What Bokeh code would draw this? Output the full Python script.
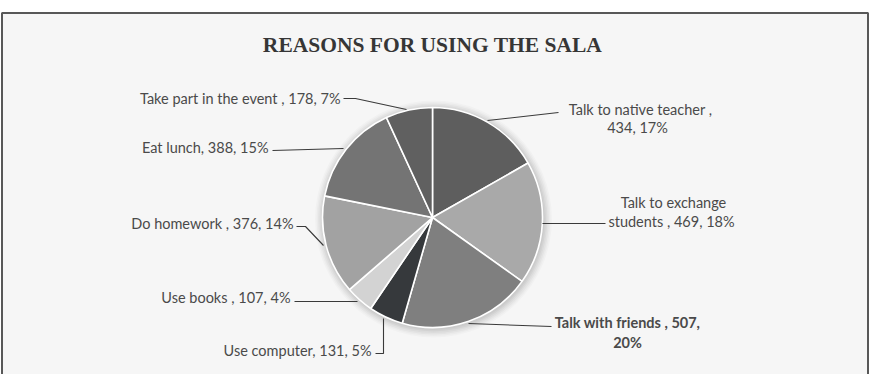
import numpy as np
from bokeh.plotting import figure
from bokeh.models import Range1d
from bokeh.core.properties import value
from bokeh.embed import file_html
from bokeh.resources import INLINE

# ---- data ----
categories = ["Talk to native teacher", "Talk to exchange students", "Talk with friends",
              "Use computer", "Use books", "Do homework", "Eat lunch", "Take part in the event"]
counts = [434, 469, 507, 131, 107, 376, 388, 178]
percents = [17, 18, 20, 5, 4, 14, 15, 7]
slice_colors = ["#5e5e5e", "#a9a9a9", "#7f7f7f", "#36393c", "#d3d3d3", "#a2a2a2", "#747474", "#606060"]
title = "REASONS FOR USING THE SALA"

W, H = 878, 374
def Y(py):
    return H - py

p = figure(width=W, height=H, x_range=Range1d(0, W), y_range=Range1d(0, H),
           output_backend="svg", toolbar_location=None, min_border=0)
p.axis.visible = False
p.grid.visible = False
p.outline_line_color = None
p.background_fill_color = "white"
p.border_fill_color = "white"

# frame
p.quad(left=1.5, right=867.5, bottom=-10, top=Y(12.5), fill_color="#f6f6f6",
       line_color="#585858", line_width=2)

# title
p.text(x=[432], y=[Y(44)], text=[title], text_font=value("Liberation Serif"),
       text_font_style="bold", text_font_size="21.5px", text_color="#363636",
       text_align="center", text_baseline="middle")

cx, cy, R = 432, Y(217), 110

# shadow halo
for i, a in enumerate([0.035, 0.035, 0.03, 0.03, 0.025, 0.02]):
    p.circle(x=[cx + 1], y=[cy - 1.5], radius=R + 1 + i * 1.5, radius_units="screen",
             fill_color="#000000", fill_alpha=a, line_color=None)

total = float(sum(counts))
fr = np.array(counts) / total
cum = np.concatenate([[0], np.cumsum(fr)])
start = np.pi / 2 - cum[:-1] * 2 * np.pi
end = np.pi / 2 - cum[1:] * 2 * np.pi
p.wedge(x=cx, y=cy, radius=R, radius_units="screen", start_angle=start, end_angle=end,
        direction="clock", fill_color=slice_colors, line_color="white", line_width=1.6)

# leader lines (layout)
leaders = [
    ([487, 558], [120, 112]),              # native teacher
    ([542, 605], [223, 223]),              # exchange
    ([468, 551], [323, 326]),              # friends
    ([375, 383, 383], [353, 353, 318]),    # computer
    ([294, 357], [301, 301]),              # books
    ([296, 305, 323], [226, 226, 245]),    # homework
    ([272, 343], [150, 148]),              # lunch
    ([343, 355, 406], [98, 98, 109]),      # take part
]
p.multi_line(xs=[l[0] for l in leaders], ys=[[Y(v) for v in l[1]] for l in leaders],
             line_color="#3a3a3a", line_width=1.1)

font = value("Lato")
fs = "14.5px"
col = "#4a4a4a"

def lab(x, y, txt, align, bold=False):
    p.text(x=[x], y=[Y(y)], text=[txt], text_font=font, text_font_size=fs,
           text_color=col, text_align=align, text_baseline="middle",
           text_font_style="bold" if bold else "normal")

lab(340, 98, f"{categories[7]} , {counts[7]}, {percents[7]}%", "right")
lab(268, 147, f"{categories[6]}, {counts[6]}, {percents[6]}%", "right")
lab(293, 223, f"{categories[5]} , {counts[5]}, {percents[5]}%", "right")
lab(290, 297, f"{categories[4]} , {counts[4]}, {percents[4]}%", "right")
lab(371, 350, f"{categories[3]}, {counts[3]}, {percents[3]}%", "right")

lab(640, 109, f"{categories[0]} ,", "center")
lab(637, 127, f"{counts[0]}, {percents[0]}%", "center")
lab(673, 202, "Talk to exchange", "center")
lab(671, 221, f"students , {counts[1]}, {percents[1]}%", "center")
lab(627, 322, f"{categories[2]} , {counts[2]},", "center", bold=True)
lab(627, 342, f"{percents[2]}%", "center", bold=True)

open("out.html", "w").write(file_html(p, INLINE))
